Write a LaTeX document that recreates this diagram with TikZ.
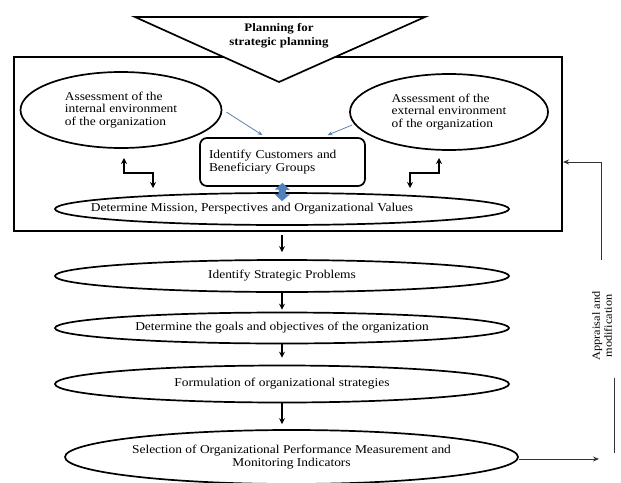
\documentclass[tikz,border=0pt]{standalone}
\usepackage{fontspec}
\setmainfont[FakeStretch=1.12]{Liberation Serif}
\usetikzlibrary{arrows.meta,calc,shapes.geometric}
\definecolor{steel}{RGB}{79,129,189}
\definecolor{hintblue}{RGB}{95,130,170}
\begin{document}
\begin{tikzpicture}[x=1pt,y=-1pt,font=\fontsize{12}{12.5}\selectfont,
  oval/.style={draw,ellipse,line width=1.7pt,inner sep=0pt,align=center},
  flow/.style={-{Stealth[length=6pt,width=6pt]},line width=1.7pt},
  zig/.style={{Stealth[length=6pt,width=6pt]}-{Stealth[length=6pt,width=6pt]},line width=1.7pt},
  duo/.style={{Triangle[length=7pt,width=15pt]}-{Triangle[length=7pt,width=15pt]},line width=7pt,steel},
  hint/.style={-{Stealth[length=5pt,width=4pt]},line width=0.8pt,hintblue},
  fb/.style={line width=1pt,black!80}]
\useasboundingbox (0,0) rectangle (621,482);
\fill[white] (0,0) rectangle (621,482);
\draw (288,144) node[draw,line width=2pt,minimum width=548,minimum height=174,inner sep=0pt] (frame) {};	%outer frame
\filldraw[fill=white,line width=1.7pt,line join=miter] (135,17) -- (425,17) -- (279,82) -- cycle;	%planning
\draw (279,36) node[font=\fontsize{11.5}{14}\selectfont\bfseries,align=center] (plan) {Planning for\\strategic planning};
\draw (121,110) node[oval,minimum width=201,minimum height=76,align=left] (intl) {Assessment of the\\internal environment\\of the organization};
\draw (449,112) node[oval,minimum width=198,minimum height=76,align=left] (extl) {Assessment of the\\external environment\\of the organization};
\draw (282.5,162) node[draw,line width=1.7pt,rounded corners=7pt,minimum width=165,minimum height=48,text width=147,inner xsep=9pt,align=left] (cust) {Identify Customers and\\Beneficiary Groups};
\draw (282,209) node[oval,minimum width=454,minimum height=32] (mission) {};
\draw (252,209) node (missiontxt) {Determine Mission, Perspectives and Organizational Values};
\draw (282,276) node[oval,minimum width=454,minimum height=32] (probs) {Identify Strategic Problems};
\draw (282,328) node[oval,minimum width=454,minimum height=31] (goals) {Determine the goals and objectives of the organization};
\draw (282,384) node[oval,minimum width=454,minimum height=37] (strat) {Formulation of organizational strategies};
\draw (291.5,457) node[oval,minimum width=453,minimum height=54,inner xsep=-3pt] (select) {Selection of Organizational Performance Measurement and\\Monitoring Indicators};
\draw (602,326) node[rotate=90,align=center,font=\fontsize{11}{12}\selectfont] (apprl) {Appraisal and\\modification};
% links inside the frame
\draw[hint] ([xshift=4pt,yshift=-2pt]intl.east) -- ([xshift=-20pt,yshift=2pt]cust.north);
\draw[hint] ([xshift=3pt,yshift=-13pt]extl.west) -- ([xshift=45pt,yshift=2pt]cust.north);
\draw[duo] ([yshift=4pt]cust.south) -- ([yshift=-9pt]mission.north);
\coordinate (lzup) at (124,158);
\coordinate (lzdn) at (153,188);
\coordinate (rzup) at (439,158);
\coordinate (rzdn) at (410,188);
\draw[zig] (lzup) -- ++(0,15) -| (lzdn);
\draw[zig] (rzup) -- ++(0,15) -| (rzdn);
% main flow
\draw[flow,shorten <=3pt,shorten >=7pt] (frame.south -| probs.north) -- (probs.north);
\draw[flow,shorten >=2pt] (probs) -- (goals);
\draw[flow,shorten >=7pt] (goals) -- (strat);
\draw[flow,shorten >=5pt] (strat) -- (select.north -| strat.south);
% appraisal and modification
\coordinate (fbtop) at (601,162);
\coordinate (fbmid) at (601,260);
\coordinate (fblow) at (614,378);
\coordinate (fbbot) at (614,453);
\coordinate (fbend) at (599,459);
\draw[fb] (fbmid) -- (fbtop);
\draw[fb,-{Stealth[length=6pt,width=5pt]}] (fbtop) -- (fbtop -| frame.east);
\draw[fb] (fblow) -- (fbbot);
\draw[fb,-{Stealth[length=6pt,width=5pt]}] (select.east |- fbend) -- (fbend);
\end{tikzpicture}
\end{document}
